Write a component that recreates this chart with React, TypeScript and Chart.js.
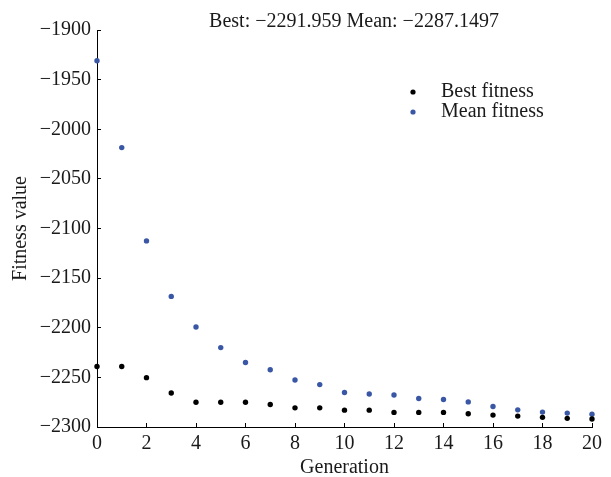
import React, { useEffect, useRef } from "react";
import { Chart, registerables } from "chart.js";

Chart.register(...registerables);

const generations = [0, 1, 2, 3, 4, 5, 6, 7, 8, 9, 10, 11, 12, 13, 14, 15, 16, 17, 18, 19, 20];
const bestFitness = [
  -2239, -2239, -2250.3, -2265.7, -2275, -2275, -2275, -2277.3, -2280.7, -2280.7, -2283,
  -2283, -2285.3, -2285.3, -2285.3, -2286.7, -2288, -2289, -2290.3, -2291.3, -2291.959,
];
const meanFitness = [
  -1931, -2018.5, -2112.5, -2168.4, -2199.3, -2220, -2235, -2242.3, -2252.7, -2257.3, -2265.3,
  -2266.7, -2267.7, -2271.3, -2272.3, -2274.7, -2279.3, -2282.7, -2285, -2286, -2287.1497,
];
const seriesLabels = ["Best fitness", "Mean fitness"];
const seriesColors = ["#000000", "#3a57a6"];
const chartTitle = "Best: \u22122291.959 Mean: \u22122287.1497";
const xAxisTitle = "Generation";
const yAxisTitle = "Fitness value";

const FONT_FAMILY = "'Liberation Serif', 'DejaVu Serif', serif";
const TEXT_COLOR = "#1a1a1a";

const overlayPlugin = {
  id: "overlay",
  afterDraw(chart: any) {
    const ctx = chart.ctx;
    ctx.save();
    ctx.fillStyle = TEXT_COLOR;
    ctx.font = `20px ${FONT_FAMILY}`;
    ctx.textAlign = "center";
    ctx.textBaseline = "alphabetic";
    ctx.fillText(chartTitle, 354, 27);

    const dsets = chart.data.datasets;
    ctx.textAlign = "left";
    dsets.forEach((ds: any, i: number) => {
      const cy = 92 + i * 20;
      ctx.beginPath();
      ctx.fillStyle = ds.backgroundColor;
      ctx.arc(413, cy, 2.6, 0, Math.PI * 2);
      ctx.fill();
      ctx.fillStyle = TEXT_COLOR;
      ctx.fillText(ds.label, 441, cy + 5);
    });
    ctx.restore();
  },
};

export default function App() {
  const canvasRef = useRef<HTMLCanvasElement | null>(null);

  useEffect(() => {
    if (!canvasRef.current) return;
    const font = { family: FONT_FAMILY, size: 20 };
    const chart = new Chart(canvasRef.current, {
      type: "scatter",
      data: {
        datasets: [
          {
            label: seriesLabels[0],
            data: generations.map((g, i) => ({ x: g, y: bestFitness[i] })),
            backgroundColor: seriesColors[0],
            borderWidth: 0,
            pointRadius: 2.7,
            clip: false as any,
          },
          {
            label: seriesLabels[1],
            data: generations.map((g, i) => ({ x: g, y: meanFitness[i] })),
            backgroundColor: seriesColors[1],
            borderWidth: 0,
            pointRadius: 2.7,
            clip: false as any,
          },
        ],
      },
      options: {
        responsive: false,
        animation: false,
        layout: { padding: { top: 30, right: 9.5, left: 0, bottom: 0 } },
        plugins: {
          legend: { display: false },
          tooltip: { enabled: false },
          title: { display: false },
        },
        scales: {
          x: {
            type: "linear",
            min: 0,
            max: 20,
            ticks: {
              stepSize: 2,
              padding: 9,
              font,
              color: TEXT_COLOR,
              maxRotation: 0,
              autoSkip: false,
            },
            grid: {
              drawOnChartArea: false,
              drawTicks: true,
              tickLength: -4,
              tickColor: "#000",
              color: "#000",
            },
            border: { display: true, color: "#000", width: 1 },
            title: {
              display: true,
              text: xAxisTitle,
              font,
              color: TEXT_COLOR,
              padding: { top: 0, bottom: -3 },
            },
            afterFit: (s: any) => {
              s.height = 50;
            },
          },
          y: {
            type: "linear",
            min: -2300,
            max: -1900,
            ticks: {
              stepSize: 50,
              padding: 10,
              font,
              color: TEXT_COLOR,
              callback: (v: any) => String(v).replace("-", "\u2212"),
            },
            grid: {
              drawOnChartArea: false,
              drawTicks: true,
              tickLength: -4,
              tickColor: "#000",
              color: "#000",
            },
            border: { display: true, color: "#000", width: 1 },
            title: {
              display: true,
              text: yAxisTitle,
              font,
              color: TEXT_COLOR,
              padding: { top: 9, bottom: 0 },
            },
            afterFit: (s: any) => {
              s.width = 97;
            },
          },
        },
      },
      plugins: [overlayPlugin],
    });
    return () => chart.destroy();
  }, []);

  return (
    <div style={{ position: "fixed", left: 0, top: 0, width: 611, height: 477, background: "#fff" }}>
      <canvas ref={canvasRef} width={611} height={477} style={{ display: "block" }} />
    </div>
  );
}
